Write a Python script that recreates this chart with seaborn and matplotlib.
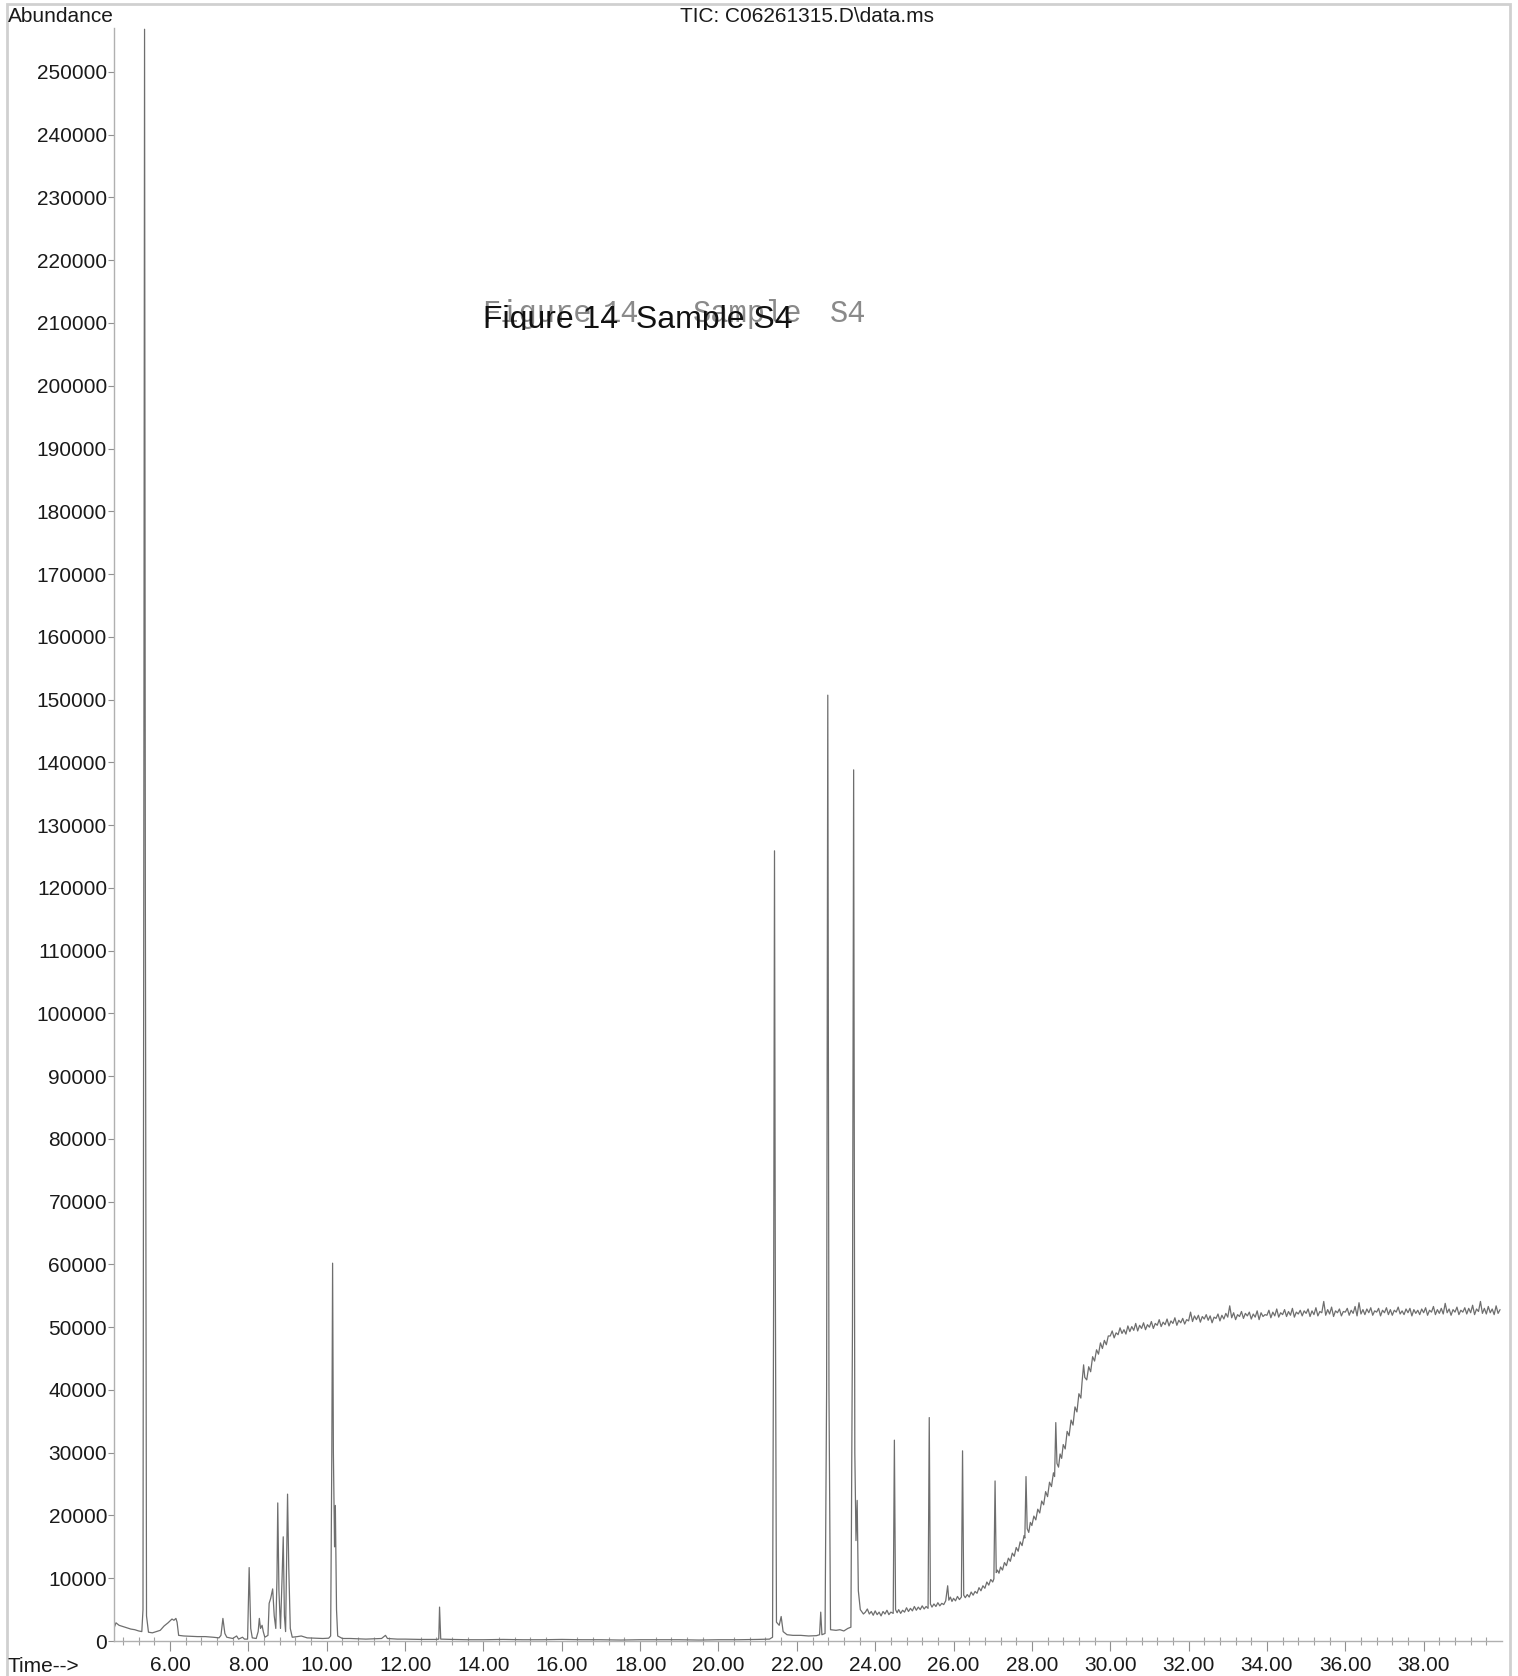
import numpy as np
import pandas as pd
import matplotlib
matplotlib.use("Agg")
import matplotlib.pyplot as plt
from matplotlib.patches import Rectangle
from matplotlib.transforms import Bbox
import seaborn as sns

# ---------------- data ----------------
# early region: 4.6 - 12 min
early_t = [4.58, 4.62, 4.70, 4.80, 4.90, 5.00, 5.10, 5.20, 5.28, 5.31, 5.33, 5.35, 5.37, 5.40,
           5.45, 5.55, 5.65, 5.75, 5.85, 5.95, 6.00, 6.05, 6.10, 6.15, 6.18, 6.22, 6.35, 6.50,
           6.70, 6.90, 7.10, 7.25, 7.30, 7.35, 7.40, 7.45, 7.60, 7.70, 7.75, 7.85, 7.90, 7.98,
           8.00, 8.02, 8.04, 8.06, 8.10, 8.20, 8.25, 8.28, 8.31, 8.35, 8.38, 8.42, 8.50, 8.53,
           8.57, 8.62, 8.66, 8.70, 8.73, 8.75, 8.78, 8.82, 8.86, 8.89, 8.92, 8.95, 8.98, 9.00,
           9.03, 9.07, 9.12, 9.25, 9.35, 9.50, 9.70, 9.90, 10.05, 10.10, 10.13, 10.15, 10.17,
           10.20, 10.22, 10.25, 10.28, 10.40, 10.60, 10.80, 11.00, 11.20, 11.40, 11.50, 11.55,
           11.80, 12.00]
early_y = [2200, 2900, 2500, 2300, 2100, 1900, 1800, 1600, 1500, 5000, 120000, 256800, 120000, 4000,
           1400, 1300, 1500, 1700, 2400, 2900, 3200, 3500, 3300, 3600, 3000, 900, 800, 750,
           700, 700, 600, 500, 900, 3600, 1200, 600, 400, 800, 300, 600, 300, 300,
           6000, 11700, 6700, 2000, 500, 400, 1500, 3600, 2000, 2500, 1500, 600, 900, 6000,
           6800, 8300, 4000, 2000, 10000, 22000, 8000, 2000, 10000, 16600, 4000, 1500, 15000, 23400,
           12000, 2000, 600, 700, 800, 500, 450, 400, 450, 800, 30000, 60200, 30000,
           15000, 21600, 5000, 800, 400, 400, 350, 300, 350, 400, 900, 400,
           300, 300]

# middle region: 12 - 23.7 min
mid_t = [12.40, 12.80, 12.86, 12.88, 12.91, 13.20, 13.60, 14.00, 14.50, 15.00, 15.50, 16.00,
         16.50, 17.00, 17.50, 18.00, 18.50, 19.00, 19.50, 20.00, 20.50, 21.00, 21.30, 21.38,
         21.41, 21.43, 21.45, 21.48, 21.55, 21.60, 21.65, 21.75, 21.90, 22.10, 22.30, 22.50,
         22.58, 22.61, 22.64, 22.72, 22.76, 22.79, 22.82, 22.86, 23.00, 23.10, 23.20, 23.30,
         23.38, 23.42, 23.45, 23.48, 23.51, 23.54, 23.57, 23.62, 23.70]
mid_y = [250, 250, 300, 5400, 300, 250, 200, 200, 250, 200, 200, 250,
         200, 200, 150, 200, 200, 200, 150, 200, 200, 250, 300, 600,
         60000, 125900, 60000, 3000, 2500, 3900, 1500, 1000, 900, 900, 800, 850,
         1000, 4600, 1000, 1200, 40000, 150700, 40000, 1800, 1700, 1800, 1600, 2000,
         2200, 50000, 138800, 30000, 16000, 22400, 8000, 5000, 4300]

# rising baseline with late peaks: 23.75 - 29.95 min
ramp_t = [23.75, 23.80, 23.85, 23.90, 23.95, 24.00, 24.05, 24.10, 24.15, 24.20, 24.25, 24.30,
          24.35, 24.40, 24.46, 24.49, 24.52, 24.56, 24.60, 24.65, 24.70, 24.75, 24.80, 24.85,
          24.90, 24.95, 25.00, 25.05, 25.10, 25.15, 25.20, 25.25, 25.30, 25.35, 25.38, 25.41,
          25.45, 25.50, 25.55, 25.60, 25.65, 25.70, 25.75, 25.80, 25.85, 25.88, 25.92, 25.96,
          26.00, 26.05, 26.10, 26.15, 26.20, 26.23, 26.26, 26.30, 26.35, 26.40, 26.45, 26.50,
          26.55, 26.60, 26.65, 26.70, 26.75, 26.80, 26.85, 26.90, 26.95, 27.00, 27.03, 27.06,
          27.09, 27.12, 27.16, 27.20, 27.25, 27.30, 27.35, 27.40, 27.45, 27.50, 27.55, 27.60,
          27.65, 27.70, 27.75, 27.80, 27.82, 27.85, 27.88, 27.92, 27.96, 28.00, 28.05, 28.10,
          28.15, 28.20, 28.25, 28.30, 28.35, 28.40, 28.45, 28.50, 28.55, 28.58, 28.61, 28.64,
          28.68, 28.72, 28.76, 28.80, 28.85, 28.90, 28.95, 29.00, 29.05, 29.10, 29.15, 29.20,
          29.25, 29.28, 29.32, 29.35, 29.40, 29.45, 29.50, 29.55, 29.60, 29.65, 29.70, 29.75,
          29.80, 29.85, 29.90, 29.95]
ramp_y = [4600, 5100, 4300, 4700, 4100, 4800, 4200, 4600, 4000, 4700, 4300, 4900,
          4200, 4600, 4400, 32000, 5000, 4500, 5000, 4400, 4900, 4600, 5300, 4700,
          5200, 4800, 5500, 4900, 5400, 5000, 5600, 5100, 5500, 5200, 35600, 5900,
          5400, 5900, 5500, 6100, 5600, 6000, 5800, 6400, 8800, 6500, 7000, 6300,
          6800, 6400, 7100, 6600, 7000, 30300, 7300, 6900, 7400, 7000, 7800, 7300,
          7900, 7600, 8500, 8000, 8800, 8400, 9400, 8900, 9800, 9400, 9900, 25500,
          10900, 11300, 10800, 11800, 11300, 12500, 12000, 13200, 12700, 14000, 13500, 14900,
          14300, 15800, 15200, 16800, 16400, 26200, 17900, 17300, 18900, 18400, 19900, 19300,
          21000, 20400, 22300, 21700, 23800, 23000, 25300, 24600, 26800, 26200, 34800, 28300,
          27700, 29800, 29100, 31300, 30600, 33400, 32700, 35200, 34400, 37300, 36500, 39400,
          38700, 41200, 44000, 42000, 41600, 43700, 42900, 45300, 44600, 46400, 45700, 47500,
          46600, 47900, 47200, 48600]

# plateau: 30 - 40 min (noisy)
plateau_t = [30.00, 30.05, 30.10, 30.15, 30.20, 30.25, 30.30, 30.35, 30.40, 30.45,
             30.50, 30.55, 30.60, 30.65, 30.70, 30.75, 30.80, 30.85, 30.90, 30.95,
             31.00, 31.05, 31.10, 31.15, 31.20, 31.25, 31.30, 31.35, 31.40, 31.45,
             31.50, 31.55, 31.60, 31.65, 31.70, 31.75, 31.80, 31.85, 31.90, 31.95,
             32.00, 32.05, 32.10, 32.15, 32.20, 32.25, 32.30, 32.35, 32.40, 32.45,
             32.50, 32.55, 32.60, 32.65, 32.70, 32.75, 32.80, 32.85, 32.90, 32.95,
             33.00, 33.05, 33.10, 33.15, 33.20, 33.25, 33.30, 33.35, 33.40, 33.45,
             33.50, 33.55, 33.60, 33.65, 33.70, 33.75, 33.80, 33.85, 33.90, 33.95,
             34.00, 34.05, 34.10, 34.15, 34.20, 34.25, 34.30, 34.35, 34.40, 34.45,
             34.50, 34.55, 34.60, 34.65, 34.70, 34.75, 34.80, 34.85, 34.90, 34.95,
             35.00, 35.05, 35.10, 35.15, 35.20, 35.25, 35.30, 35.35, 35.40, 35.45,
             35.50, 35.55, 35.60, 35.65, 35.70, 35.75, 35.80, 35.85, 35.90, 35.95,
             36.00, 36.05, 36.10, 36.15, 36.20, 36.25, 36.30, 36.35, 36.40, 36.45,
             36.50, 36.55, 36.60, 36.65, 36.70, 36.75, 36.80, 36.85, 36.90, 36.95,
             37.00, 37.05, 37.10, 37.15, 37.20, 37.25, 37.30, 37.35, 37.40, 37.45,
             37.50, 37.55, 37.60, 37.65, 37.70, 37.75, 37.80, 37.85, 37.90, 37.95,
             38.00, 38.05, 38.10, 38.15, 38.20, 38.25, 38.30, 38.35, 38.40, 38.45,
             38.50, 38.55, 38.60, 38.65, 38.70, 38.75, 38.80, 38.85, 38.90, 38.95,
             39.00, 39.05, 39.10, 39.15, 39.20, 39.25, 39.30, 39.35, 39.40, 39.45,
             39.50, 39.55, 39.60, 39.65, 39.70, 39.75, 39.80, 39.85, 39.90, 39.95]
plateau_y = [48600, 49400, 48300, 49100, 48800, 49900, 49000, 49600, 48900, 50200,
             49300, 50100, 49500, 50600, 49400, 50300, 49800, 50700, 49600, 50400,
             50000, 50900, 49800, 50600, 50300, 51200, 50100, 50800, 50400, 51300,
             50200, 51000, 50600, 51500, 50300, 51100, 50700, 51400, 50500, 51200,
             51000, 52400, 50900, 51800, 51200, 51900, 50800, 51700, 51300, 52000,
             51100, 51800, 50700, 51600, 51400, 52100, 51000, 51900, 51300, 52200,
             51600, 53400, 51500, 52300, 51200, 52000, 51700, 52500, 51400, 52200,
             51800, 52400, 51300, 52100, 51600, 52600, 51200, 52300, 51700, 52000,
             51900, 52700, 51500, 52400, 51800, 52900, 51600, 52300, 52000, 52800,
             51700, 52500, 51900, 53000, 51600, 52400, 52100, 52700, 51800, 52600,
             52200, 52900, 51700, 52600, 52000, 53100, 51800, 52500, 52300, 54100,
             51900, 52800, 52100, 53200, 51700, 52600, 52300, 52900, 51800, 52500,
             52400, 53000, 51900, 52700, 52200, 53300, 51800, 53900, 52100, 52800,
             52000, 52900, 52300, 53100, 51900, 52600, 52400, 53000, 51800, 52700,
             52300, 53100, 52000, 52800, 51900, 52700, 52400, 53200, 52100, 52600,
             52000, 52900, 52300, 53000, 51800, 52800, 52200, 52700, 52000, 52900,
             52300, 53100, 51900, 52700, 52400, 53300, 52000, 52800, 52200, 53000,
             52100, 53800, 52300, 52900, 51900, 52800, 52400, 53200, 52000, 52700,
             52400, 53100, 52100, 53000, 52300, 53500, 52000, 52900, 52500, 54100,
             52200, 53000, 52100, 53300, 52300, 52900, 52000, 53400, 52200, 52800]

x_major = [6, 8, 10, 12, 14, 16, 18, 20, 22, 24, 26, 28, 30, 32, 34, 36, 38]
x_labels = ["6.00", "8.00", "10.00", "12.00", "14.00", "16.00", "18.00", "20.00", "22.00",
            "24.00", "26.00", "28.00", "30.00", "32.00", "34.00", "36.00", "38.00"]
y_major = list(range(0, 260000, 10000))

df = pd.DataFrame({
    "time": early_t + mid_t + ramp_t + plateau_t,
    "abundance": early_y + mid_y + ramp_y + plateau_y,
})

# ---------------- figure ----------------
sns.set_theme(style="white")
plt.rcParams["font.family"] = ["Liberation Sans", "DejaVu Sans"]

W, H = 1518, 1676
fig = plt.figure(figsize=(W / 100, H / 100), dpi=100)
ax = fig.add_axes([114 / W, 1 - 1641 / H, (1502 - 114) / W, (1641 - 28) / H])

sns.lineplot(data=df, x="time", y="abundance", ax=ax, sort=False, estimator=None,
             color="#6e6e6e", linewidth=0.9)

ax.set_xlim(4.57, 40.0)
ax.set_ylim(0, 257000)
ax.set_xlabel("")
ax.set_ylabel("")

ax.set_yticks(y_major)
ax.set_yticklabels([str(v) for v in y_major])
ax.set_xticks(x_major)
ax.set_xticklabels(x_labels)
ax.set_xticks(np.arange(4.8, 40.0, 0.4), minor=True)

for s in ["top", "right"]:
    ax.spines[s].set_visible(False)
for s in ["left", "bottom"]:
    ax.spines[s].set_color("#b0b0b0")
    ax.spines[s].set_linewidth(1.0)

ax.tick_params(axis="y", which="major", direction="out", length=4, width=0.8,
               color="#909090", labelsize=15, labelcolor="#1a1a1a", pad=1, left=True)
ax.tick_params(axis="x", which="major", direction="out", length=7, width=0.8,
               color="#909090", labelsize=15, labelcolor="#1a1a1a", pad=4, bottom=True)
ax.tick_params(axis="x", which="minor", direction="inout", length=6, width=0.8,
               color="#a0a0a0", bottom=True)
ax.grid(False)

# header / footer texts
fig.text(8 / W, 1 - 16 / H, "Abundance", ha="left", va="center", fontsize=15, color="#1a1a1a")
fig.text(807 / W, 1 - 17 / H, "TIC: C06261315.D\\data.ms", ha="center", va="center",
         fontsize=15, color="#1a1a1a")
fig.text(8 / W, 1 - 1666 / H, "Time-->", ha="left", va="center", fontsize=15, color="#1a1a1a")

# overlapping caption texts (as in the reference)
for word, xp in [("Figure", 482), ("14", 603), ("Sample", 693), ("S4", 830)]:
    fig.text(xp / W, 1 - 322 / H, word, ha="left", va="baseline", fontsize=22,
             family=["Liberation Mono", "DejaVu Sans Mono"], color="#8a8a8a")
cap = fig.text(483 / W, 1 - 328 / H, "Figure 14  Sample S4", ha="left", va="baseline",
               fontsize=23, color="#111111")
cap.set_clip_box(Bbox.from_extents(0, H - 330, W, H))
cap.set_clip_on(True)

# outer light border
fig.patches.append(Rectangle((7 / W, -0.05), (1510 - 7) / W, 1.05 - 4 / H,
                             transform=fig.transFigure, fill=False,
                             edgecolor="#d0d0d0", linewidth=2))

fig.savefig("out.png", dpi=100, facecolor="white")
